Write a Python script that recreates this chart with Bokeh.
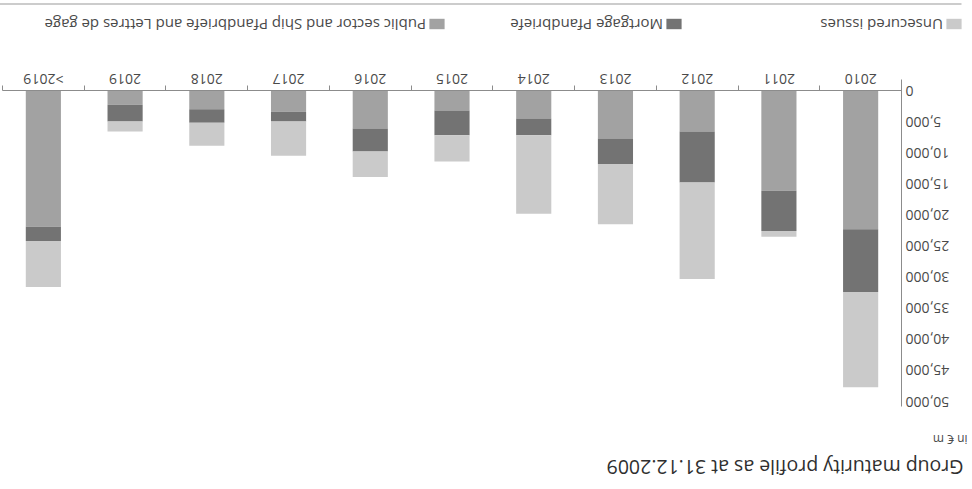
from bokeh.plotting import figure
from bokeh.models import (ColumnDataSource, Range1d, FixedTicker, NumeralTickFormatter,
                          Legend, LegendItem, Label, BoxAnnotation)
from bokeh.embed import file_html
from bokeh.resources import INLINE

# Maturities (€ m) per year bucket
categories = ["2010", "2011", "2012", "2013", "2014", "2015",
              "2016", "2017", "2018", "2019", ">2019"]
public_sector = [22300, 16100, 6600, 7700, 4500, 3200, 6100, 3400, 3000, 2300, 21900]
mortgage = [10100, 6500, 8200, 4100, 2700, 4000, 3700, 1600, 2200, 2700, 2300]
unsecured = [15300, 900, 15500, 9700, 12600, 4200, 4100, 5500, 3700, 1600, 7400]
y_ticks = list(range(0, 50001, 5000))

series_names = ["Public sector and Ship Pfandbriefe and Lettres de gage",
                "Mortgage Pfandbriefe", "Unsecured issues"]
colors = ["#a2a2a2", "#737373", "#cacaca"]

FONT = "Open Sans"
TEXT = "#4a4a4a"
AXIS = "#8c8c8c"

W, H = 972, 489
# plot area in canvas pixels: left/right edge, baseline and the 50,000 line
AREA_L, AREA_R, BASE_Y, TOP_Y = 70, 969, 398, 87

n = len(categories)
px_per_cat = (AREA_R - AREA_L) / n
px_per_unit = (BASE_Y - TOP_Y) / 50000

xs = [i + 0.5 for i in range(n)]
src = ColumnDataSource(dict(x=xs, public=public_sector, mortgage=mortgage,
                            unsecured=unsecured))

# the frame fills the canvas; axes are pinned at the data origin
p = figure(width=W, height=H, output_backend="svg", toolbar_location=None,
           title=None,
           x_range=Range1d(-AREA_L / px_per_cat, (W - AREA_L) / px_per_cat),
           y_range=Range1d(-(H - BASE_Y) / px_per_unit, BASE_Y / px_per_unit),
           min_border=0)
p.xgrid.visible = False
p.ygrid.visible = False
p.outline_line_color = None
p.background_fill_color = "white"
p.border_fill_color = "white"

bars = p.vbar_stack(["public", "mortgage", "unsecured"], x="x", width=0.43,
                    source=src, color=colors, line_color=None)

# category axis: labels at bar centres, small ticks at bucket boundaries
xa = p.xaxis[0]
xa.fixed_location = 0
xa.bounds = (0, n)
xa.ticker = FixedTicker(ticks=xs, minor_ticks=list(range(1, n + 1)))
xa.major_label_overrides = {x: c for x, c in zip(xs, categories)}
xa.major_tick_in = 0
xa.major_tick_out = 0
xa.minor_tick_in = 0
xa.minor_tick_out = 5
xa.minor_tick_line_color = AXIS
xa.axis_line_color = AXIS
xa.major_label_standoff = -3
xa.major_label_text_font = FONT
xa.major_label_text_font_size = "14px"
xa.major_label_text_color = TEXT

ya = p.yaxis[0]
ya.fixed_location = 0
ya.bounds = (-(409 - BASE_Y) / px_per_unit, (BASE_Y - 82) / px_per_unit)
ya.ticker = FixedTicker(ticks=y_ticks)
ya.formatter = NumeralTickFormatter(format="0,0")
ya.major_tick_in = 0
ya.major_tick_out = 0
ya.minor_tick_line_color = None
ya.axis_line_color = AXIS
ya.major_label_standoff = 4
ya.major_label_text_font = FONT
ya.major_label_text_font_size = "14px"
ya.major_label_text_color = TEXT

# title block
p.add_layout(Label(x=8, y=H - 21, x_units="screen", y_units="screen",
                   text="Group maturity profile as at 31.12.2009",
                   text_font=FONT, text_font_size="19.5px", text_color="#2f2f2f",
                   text_baseline="middle"))
p.add_layout(Label(x=4, y=H - 49, x_units="screen", y_units="screen",
                   text="in € m", text_font=FONT, text_font_size="12px",
                   text_color=TEXT, text_baseline="middle"))

# legend entries, one per series, along the bottom
legend_x = {"Unsecured issues": 8, "Mortgage Pfandbriefe": 288,
            "Public sector and Ship Pfandbriefe and Lettres de gage": 525}
for name, r in zip(series_names, bars):
    lg = Legend(items=[LegendItem(label=name, renderers=[r])],
                location=(legend_x[name], 15), orientation="horizontal",
                padding=0, margin=0, spacing=0, border_line_color=None,
                background_fill_alpha=0, glyph_width=19, glyph_height=13,
                label_height=13, label_standoff=2, label_text_font=FONT,
                label_text_font_size="15px", label_text_color=TEXT)
    p.add_layout(lg)

# rule under the legend
p.add_layout(BoxAnnotation(left=10, right=W, bottom=4, top=5,
                           left_units="screen", right_units="screen",
                           bottom_units="screen", top_units="screen",
                           fill_color="#9a9a9a", fill_alpha=1, line_color=None))

# the printed page is turned upside down
p.styles = {"transform": "rotate(180deg)"}

open("out.html", "w").write(file_html(p, INLINE))
